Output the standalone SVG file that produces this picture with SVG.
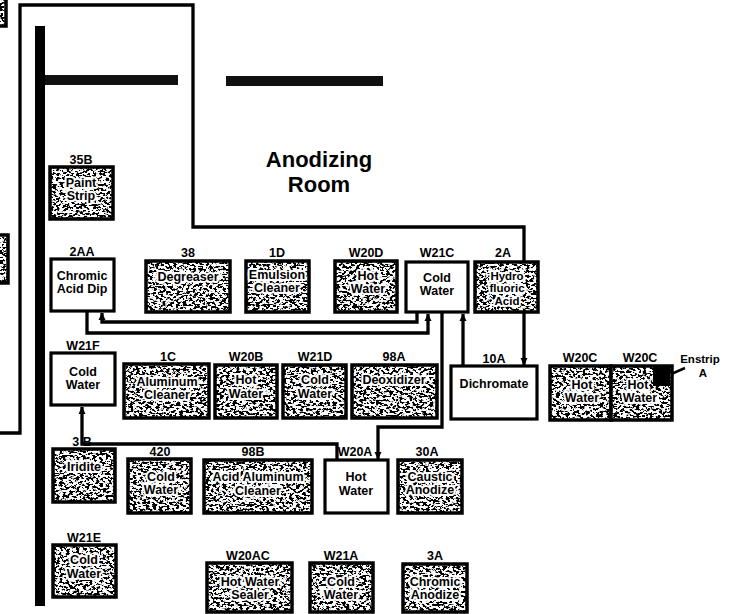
<svg xmlns="http://www.w3.org/2000/svg" width="733" height="614" viewBox="0 0 733 614">
  <defs>
    <!-- speckled tank fill: white base with thresholded noise -->
    <filter id="grain" x="0" y="0" width="1" height="1">
      <feTurbulence type="fractalNoise" baseFrequency="0.3 0.45" numOctaves="3" seed="7" result="noise"/>
      <feColorMatrix in="noise" type="matrix" values="0 0 0 0 0  0 0 0 0 0  0 0 0 0 0  16 0 0 0 -7.7" result="blots"/>
      <feComposite in="blots" in2="SourceAlpha" operator="in" result="dots"/>
      <feFlood flood-color="#ffffff" result="white"/>
      <feComposite in="white" in2="SourceAlpha" operator="in" result="base"/>
      <feMerge>
        <feMergeNode in="base"/>
        <feMergeNode in="dots"/>
      </feMerge>
    </filter>
    <marker id="arrow" markerUnits="userSpaceOnUse" markerWidth="8" markerHeight="8" refX="7" refY="4" orient="auto">
      <path d="M0,0.5 L7.5,4 L0,7.5 z" fill="#000"/>
    </marker>
    <style>
      .clear { fill: #fff; stroke: #000; stroke-width: 3.2; }
      .grainy { fill: #fff; filter: url(#grain); }
      .edge { fill: none; stroke: #000; stroke-width: 3.5; }
      .lbl { font-family: "Liberation Sans", Arial, sans-serif; font-weight: bold; font-size: 12.5px; text-anchor: middle; fill: #000; }
      .tx { font-family: "Liberation Sans", Arial, sans-serif; font-weight: bold; font-size: 12.5px; text-anchor: middle; fill: #000; }
      .halo { stroke: #fff; stroke-width: 4; paint-order: stroke; stroke-linejoin: round; }
      .small { font-size: 11.5px; }
      .pipe { fill: none; stroke: #000; stroke-width: 3.3; stroke-linejoin: miter; }
      .title { font-family: "Liberation Sans", Arial, sans-serif; font-weight: bold; font-size: 22px; text-anchor: middle; fill: #000; }
    </style>
  </defs>

  <rect width="733" height="614" fill="#fff"/>

  <!-- walls and fixed structure -->
  <g id="structure">
    <rect x="35" y="26" width="10" height="580" fill="#000"/>
    <rect x="45" y="75" width="133" height="10" fill="#111"/>
    <rect x="226" y="76" width="157" height="10" fill="#111"/>
    <rect x="-20" y="-10" width="26" height="36" class="grainy"/>
    <rect x="-20" y="-10" width="26" height="36" class="edge"/>
    <rect x="-20" y="235" width="28" height="48" class="grainy"/>
    <rect x="-20" y="235" width="28" height="48" class="edge"/>
    <text class="title" x="319" y="167">Anodizing</text>
    <text class="title" x="319" y="192">Room</text>
  </g>

  <!-- piping runs -->
  <g id="connectors">
    <path class="pipe" d="M0,433 H20 V5 H193 V227 H524 V365" marker-end="url(#arrow)"/>
    <path class="pipe" d="M87,311 V333 H428 V314" marker-end="url(#arrow)"/>
    <path class="pipe" d="M417,312 V322 H102 V313" marker-end="url(#arrow)"/>
    <path class="pipe" d="M442,312 V427 H378 V459" marker-end="url(#arrow)"/>
    <path class="pipe" d="M463,366 V314" marker-end="url(#arrow)"/>
    <path class="pipe" d="M337,460 V444 H82 V407" marker-end="url(#arrow)"/>
    <path d="M669,375 L685,368" stroke="#000" stroke-width="2.5"/>
  </g>

  <g id="tank-35B">
    <rect x="50" y="167" width="63" height="52" class="grainy"/>
    <rect x="50" y="167" width="63" height="52" class="edge"/>
    <text class="lbl" x="81" y="164">35B</text>
    <text class="tx halo" x="81" y="187">Paint</text>
    <text class="tx halo" x="81" y="200">Strip</text>
  </g>

  <g id="tank-2AA">
    <rect x="51" y="259" width="63" height="52" class="clear"/>
    <text class="lbl" x="82" y="256">2AA</text>
    <text class="tx" x="82" y="280">Chromic</text>
    <text class="tx" x="82" y="293">Acid Dip</text>
  </g>

  <g id="tank-38">
    <rect x="146" y="261" width="84" height="51" class="grainy"/>
    <rect x="146" y="261" width="84" height="51" class="edge"/>
    <text class="lbl" x="188" y="257">38</text>
    <text class="tx halo" x="188" y="281">Degreaser</text>
  </g>

  <g id="tank-1D">
    <rect x="246" y="261" width="63" height="51" class="grainy"/>
    <rect x="246" y="261" width="63" height="51" class="edge"/>
    <text class="lbl" x="277" y="257">1D</text>
    <text class="tx halo" x="277" y="279">Emulsion</text>
    <text class="tx halo" x="277" y="292">Cleaner</text>
  </g>

  <g id="tank-W20D">
    <rect x="335" y="261" width="62" height="51" class="grainy"/>
    <rect x="335" y="261" width="62" height="51" class="edge"/>
    <text class="lbl" x="366" y="257">W20D</text>
    <text class="tx halo" x="368" y="280">Hot</text>
    <text class="tx halo" x="368" y="293">Water</text>
  </g>

  <g id="tank-W21C">
    <rect x="406" y="262" width="62" height="50" class="clear"/>
    <text class="lbl" x="437" y="257">W21C</text>
    <text class="tx" x="437" y="282">Cold</text>
    <text class="tx" x="437" y="295">Water</text>
  </g>

  <g id="tank-2A">
    <rect x="475" y="262" width="63" height="50" class="grainy"/>
    <rect x="475" y="262" width="63" height="50" class="edge"/>
    <text class="lbl" x="503" y="257">2A</text>
    <text class="tx small halo" x="507" y="280">Hydro</text>
    <text class="tx small halo" x="507" y="292">fluoric</text>
    <text class="tx small halo" x="507" y="305">Acid</text>
  </g>

  <g id="tank-W21F">
    <rect x="51" y="353" width="64" height="52" class="clear"/>
    <text class="lbl" x="83" y="350">W21F</text>
    <text class="tx" x="83" y="376">Cold</text>
    <text class="tx" x="83" y="389">Water</text>
  </g>

  <g id="tank-1C">
    <rect x="124" y="364" width="85" height="54" class="grainy"/>
    <rect x="124" y="364" width="85" height="54" class="edge"/>
    <text class="lbl" x="168" y="361">1C</text>
    <text class="tx halo" x="167" y="386">Aluminum</text>
    <text class="tx halo" x="167" y="399">Cleaner</text>
  </g>

  <g id="tank-W20B">
    <rect x="215" y="365" width="62" height="53" class="grainy"/>
    <rect x="215" y="365" width="62" height="53" class="edge"/>
    <text class="lbl" x="246" y="361">W20B</text>
    <text class="tx halo" x="246" y="384">Hot</text>
    <text class="tx halo" x="246" y="398">Water</text>
  </g>

  <g id="tank-W21D">
    <rect x="283" y="365" width="63" height="53" class="grainy"/>
    <rect x="283" y="365" width="63" height="53" class="edge"/>
    <text class="lbl" x="315" y="361">W21D</text>
    <text class="tx halo" x="315" y="384">Cold</text>
    <text class="tx halo" x="315" y="398">Water</text>
  </g>

  <g id="tank-98A">
    <rect x="352" y="365" width="85" height="53" class="grainy"/>
    <rect x="352" y="365" width="85" height="53" class="edge"/>
    <text class="lbl" x="394" y="361">98A</text>
    <text class="tx halo" x="394" y="384">Deoxidizer</text>
  </g>

  <g id="tank-10A">
    <rect x="451" y="366" width="86" height="53" class="clear"/>
    <text class="lbl" x="494" y="363">10A</text>
    <text class="tx" x="494" y="388">Dichromate</text>
  </g>

  <g id="tank-W20C-1">
    <rect x="550" y="366" width="61" height="54" class="grainy"/>
    <rect x="550" y="366" width="61" height="54" class="edge"/>
    <text class="lbl" x="580" y="362">W20C</text>
    <text class="tx halo" x="582" y="389">Hot</text>
    <text class="tx halo" x="582" y="402">Water</text>
  </g>

  <g id="tank-W20C-2">
    <rect x="611" y="366" width="61" height="54" class="grainy"/>
    <rect x="611" y="366" width="61" height="54" class="edge"/>
    <rect x="653" y="367" width="17" height="19" fill="#000"/>
    <text class="lbl" x="640" y="362">W20C</text>
    <text class="tx halo" x="638" y="389">Hot</text>
    <text class="tx halo" x="640" y="402">Water</text>
  </g>

  <g id="enstrip">
    <text class="tx small" x="700" y="363">Enstrip</text>
    <text class="tx small" x="703" y="377">A</text>
  </g>

  <g id="tank-31B">
    <rect x="53" y="449" width="62" height="53" class="grainy"/>
    <rect x="53" y="449" width="62" height="53" class="edge"/>
    <text class="lbl" x="82" y="446">3 B</text>
    <text class="tx halo" x="84" y="471">Iridite</text>
  </g>

  <g id="tank-420">
    <rect x="128" y="459" width="63" height="54" class="grainy"/>
    <rect x="128" y="459" width="63" height="54" class="edge"/>
    <text class="lbl" x="160" y="456">420</text>
    <text class="tx halo" x="161" y="481">Cold</text>
    <text class="tx halo" x="161" y="494">Water</text>
  </g>

  <g id="tank-98B">
    <rect x="204" y="460" width="108" height="53" class="grainy"/>
    <rect x="204" y="460" width="108" height="53" class="edge"/>
    <text class="lbl" x="253" y="456">98B</text>
    <text class="tx halo" x="258" y="481">Acid Aluminum</text>
    <text class="tx halo" x="258" y="495">Cleaner</text>
  </g>

  <g id="tank-W20A">
    <rect x="325" y="460" width="63" height="53" class="clear"/>
    <text class="lbl" x="355" y="456">W20A</text>
    <text class="tx" x="356" y="481">Hot</text>
    <text class="tx" x="356" y="495">Water</text>
  </g>

  <g id="tank-30A">
    <rect x="398" y="460" width="64" height="53" class="grainy"/>
    <rect x="398" y="460" width="64" height="53" class="edge"/>
    <text class="lbl" x="427" y="456">30A</text>
    <text class="tx halo" x="430" y="481">Caustic</text>
    <text class="tx halo" x="430" y="494">Anodize</text>
  </g>

  <g id="tank-W21E">
    <rect x="53" y="545" width="63" height="52" class="grainy"/>
    <rect x="53" y="545" width="63" height="52" class="edge"/>
    <text class="lbl" x="84" y="542">W21E</text>
    <text class="tx halo" x="84" y="564">Cold</text>
    <text class="tx halo" x="84" y="578">Water</text>
  </g>

  <g id="tank-W20AC">
    <rect x="207" y="563" width="85" height="49" class="grainy"/>
    <rect x="207" y="563" width="85" height="49" class="edge"/>
    <text class="lbl" x="248" y="560">W20AC</text>
    <text class="tx halo" x="250" y="586">Hot Water</text>
    <text class="tx halo" x="250" y="599">Sealer</text>
  </g>

  <g id="tank-W21A">
    <rect x="310" y="563" width="63" height="49" class="grainy"/>
    <rect x="310" y="563" width="63" height="49" class="edge"/>
    <text class="lbl" x="341" y="560">W21A</text>
    <text class="tx halo" x="341" y="586">Cold</text>
    <text class="tx halo" x="341" y="599">Water</text>
  </g>

  <g id="tank-3A">
    <rect x="403" y="564" width="64" height="48" class="grainy"/>
    <rect x="403" y="564" width="64" height="48" class="edge"/>
    <text class="lbl" x="435" y="560">3A</text>
    <text class="tx halo" x="435" y="586">Chromic</text>
    <text class="tx halo" x="435" y="599">Anodize</text>
  </g>
</svg>
